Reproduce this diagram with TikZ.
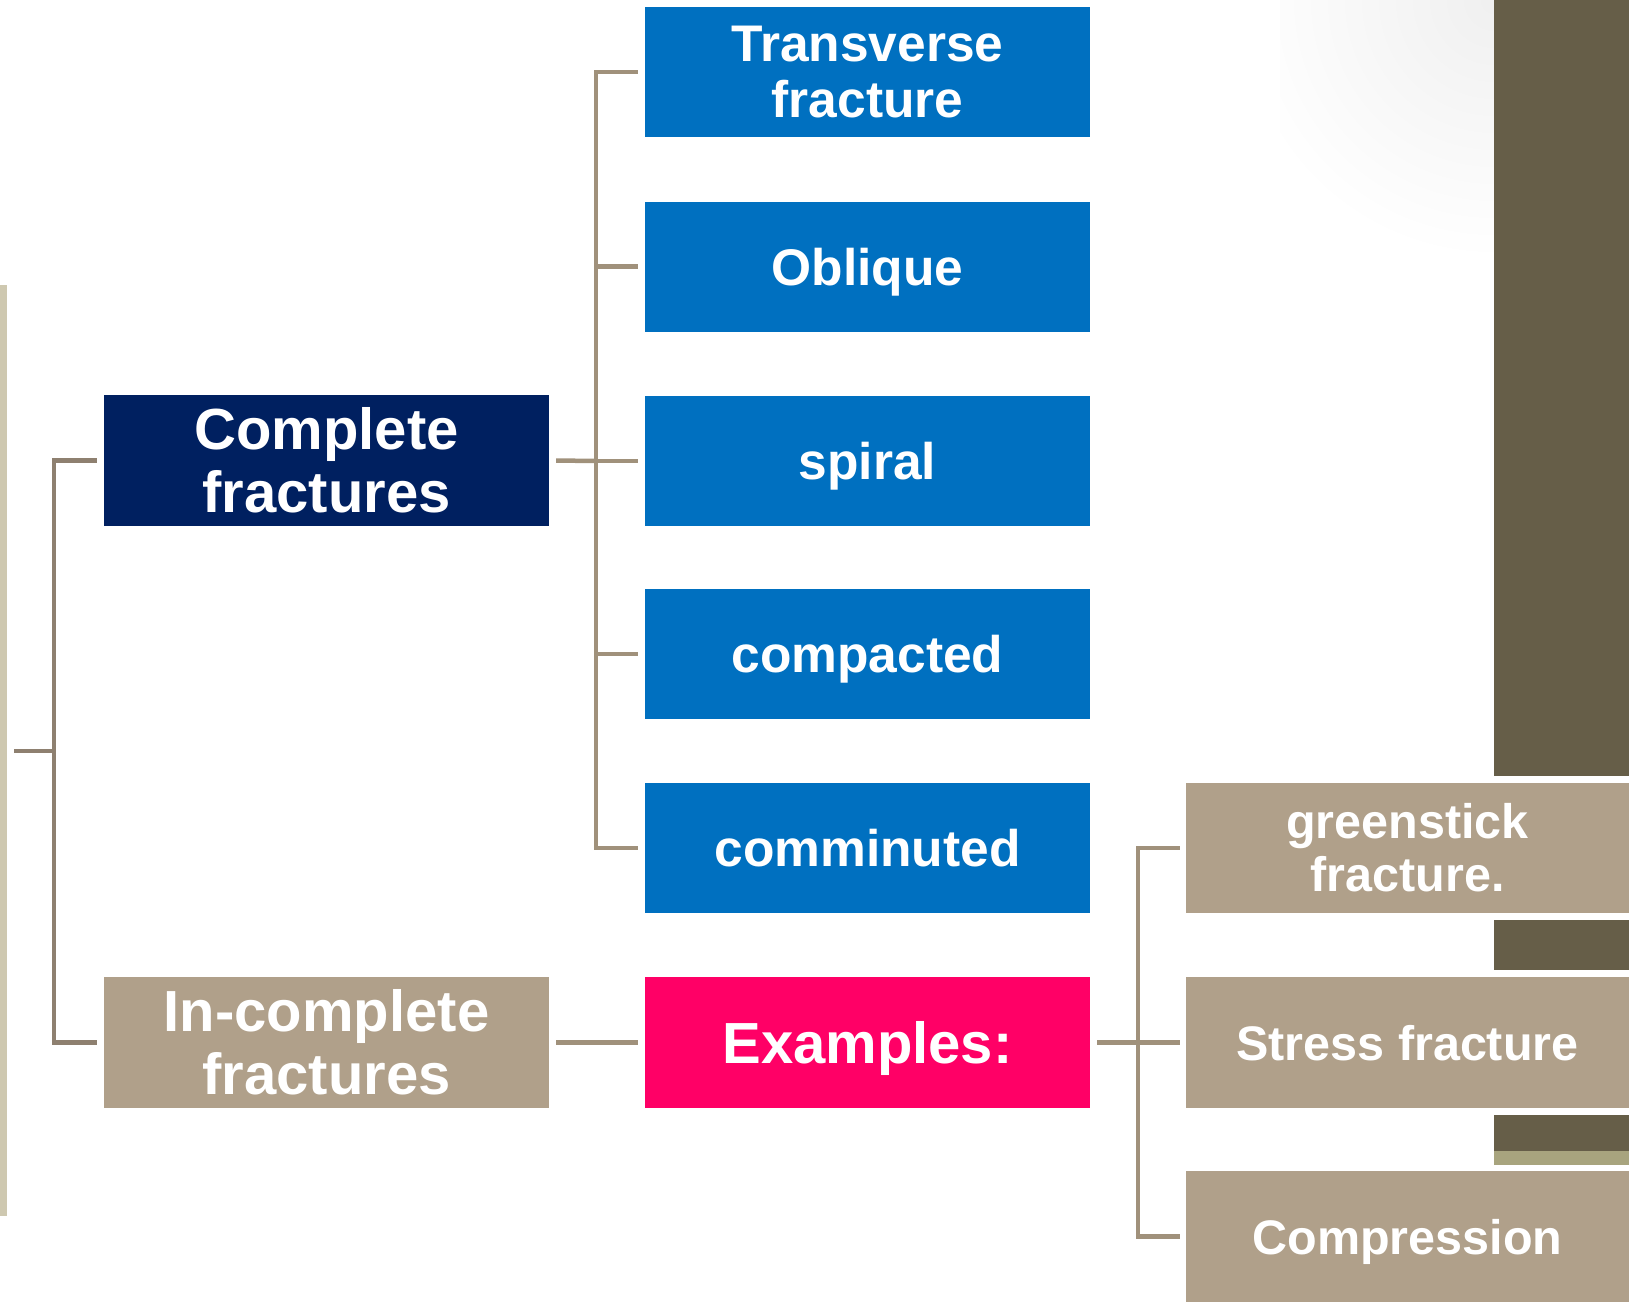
\documentclass[tikz,border=0pt]{standalone}
\usepackage{fontspec}
\setmainfont{Liberation Sans}
\definecolor{blueb}{HTML}{0070C0}
\definecolor{navyb}{HTML}{002060}
\definecolor{beigeb}{HTML}{B0A08A}
\definecolor{pinkb}{HTML}{FF0066}
\definecolor{oliveb}{HTML}{665E48}
\definecolor{olivel}{HTML}{A8A47E}
\definecolor{lbar}{HTML}{CEC8B0}
\definecolor{connA}{HTML}{8E8070}
\definecolor{connB}{HTML}{A0917B}
\tikzset{
  box/.style={minimum width=445pt, minimum height=130pt, inner sep=0pt, align=center, text=white, font=\bfseries},
  bigtxt/.style={font=\bfseries\fontsize{58}{63}\selectfont},
  midtxt/.style={font=\bfseries\fontsize{51.5}{56}\selectfont},
  smalltxt/.style={font=\bfseries\fontsize{48.5}{53}\selectfont},
  onebig/.style={text height=42.3pt, text depth=0pt},
  onemid/.style={text height=37.6pt, text depth=0pt},
  onesmall/.style={text height=35.4pt, text depth=0pt},
  connL/.style={draw=connA, line width=4.5pt},
  connR/.style={draw=connB, line width=4.5pt}
}
\begin{document}
\begin{tikzpicture}[x=1pt,y=-1pt]
\fill[white] (0,0) rectangle (1629,1302);
\useasboundingbox (0,0) rectangle (1629,1302);
% faint shading top right
\begin{scope}
\clip (1280,0) rectangle (1494,260);
\shade[inner color=black!6, outer color=white] (1494,0) circle (260);
\end{scope}
% olive bars
\fill[oliveb] (1494,0) rectangle (1629,776);
\fill[oliveb] (1494,920) rectangle (1629,970);
\fill[oliveb] (1494,1115) rectangle (1629,1151);
\fill[olivel] (1494,1151) rectangle (1629,1165);
% left bar
\fill[lbar] (0,285) rectangle (7,1216);

% nodes
\node[box, fill=navyb, bigtxt, minimum height=131pt] (comp) at (326.5,460.5) {Complete\\fractures};
\node[box, fill=beigeb, bigtxt, minimum height=131pt] (incomp) at (326.5,1042.5) {In-complete\\fractures};

\node[box, fill=blueb, midtxt] (t1) at (867.5,72) {Transverse\\fracture};
\node[box, fill=blueb, midtxt, onemid] (t2) at (867.5,266.5) {Oblique};
\node[box, fill=blueb, midtxt, onemid] (t3) at (867.5,461) {spiral};
\node[box, fill=blueb, midtxt, onemid] (t4) at (867.5,654) {compacted};
\node[box, fill=blueb, midtxt, onemid] (t5) at (867.5,848) {comminuted};
\node[box, fill=pinkb, bigtxt, onebig, minimum height=131pt] (ex) at (867.5,1042.5) {Examples:};

\node[box, fill=beigeb, smalltxt, minimum width=443pt] (gs) at (1407.5,848) {greenstick\\fracture.};
\node[box, fill=beigeb, smalltxt, onesmall, minimum width=443pt, minimum height=131pt] (st) at (1407.5,1042.5) {Stress fracture};
\node[box, fill=beigeb, smalltxt, onesmall, minimum width=443pt, minimum height=131pt] (cp) at (1407.5,1236.5) {Compression};

% junctions
\coordinate (root) at (14,751);
\coordinate (lj) at (54,751);
\coordinate (mj) at (596,461);
\coordinate (rj) at (1138,1042.5);

% left tree
\draw[connL] (root) -- (lj);
\draw[connL] ([xshift=-7pt]comp.west) -| (lj);
\draw[connL] ([xshift=-7pt]incomp.west) -| (lj);

% middle tree
\draw[connR] ([xshift=7pt]comp.east) -- (mj);
\draw[connR] ([xshift=-7pt]t1.west) -| (mj);
\draw[connR] ([xshift=-7pt]t5.west) -| (mj);
\draw[connR] ([xshift=-7pt]t2.west) -- (t2.west -| mj);
\draw[connR] ([xshift=-7pt]t3.west) -- (t3.west -| mj);
\draw[connR] ([xshift=-7pt]t4.west) -- (t4.west -| mj);

% incomplete to examples
\draw[connR] ([xshift=7pt]incomp.east) -- ([xshift=-7pt]ex.west);

% right tree
\draw[connR] ([xshift=7pt]ex.east) -- ([xshift=-6pt]st.west);
\draw[connR] ([xshift=-6pt]gs.west) -| (rj);
\draw[connR] ([xshift=-6pt]cp.west) -| (rj);
\end{tikzpicture}
\end{document}
